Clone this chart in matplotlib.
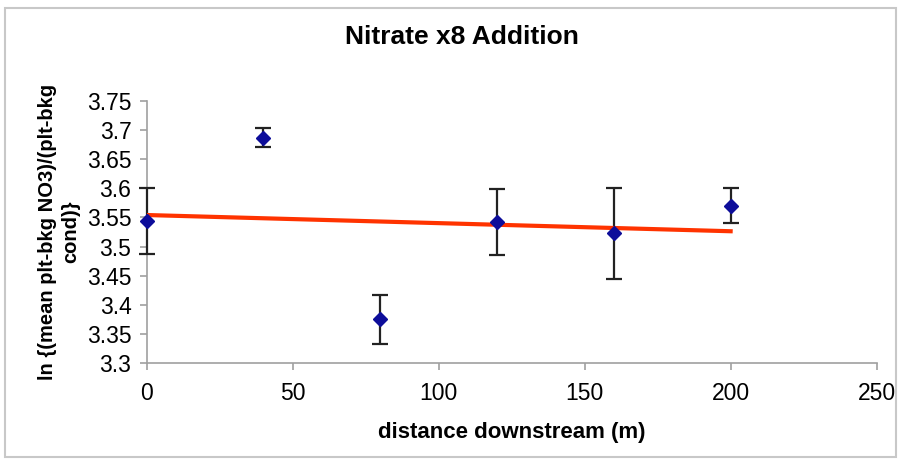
import numpy as np
import matplotlib
matplotlib.use("Agg")
from matplotlib import pyplot as plt
from matplotlib.patches import Rectangle

distance = [0, 40, 80, 120, 160, 200]
ln_ratio = [3.544, 3.687, 3.375, 3.542, 3.523, 3.570]
error = [0.057, 0.016, 0.042, 0.056, 0.078, 0.030]

plt.rcParams["font.family"] = ["Liberation Sans", "DejaVu Sans"]

fig = plt.figure(figsize=(9, 4.63), dpi=100)
ax = fig.add_axes([0.163, 0.216, 0.811, 0.566])

# chart area border
fig.patches.append(Rectangle((0.006, 0.013), 0.99, 0.97, transform=fig.transFigure,
                             fill=False, edgecolor="#c8c8c8", linewidth=1.5))

eb = ax.errorbar(distance, ln_ratio, yerr=error, fmt="none", ecolor="#222222",
                 elinewidth=1.6, capsize=6, capthick=1.6, zorder=3)
for art in eb.lines[1] + eb.lines[2]:
    art.set_clip_on(False)
    art.set_zorder(3)

# linear trendline
slope, intercept = np.polyfit(distance, ln_ratio, 1)
xs = np.array([min(distance), max(distance)])
ax.plot(xs, slope * xs + intercept, color="#ff3300", linewidth=3, zorder=3.5)

ax.plot(distance, ln_ratio, linestyle="none", marker="D", markersize=7.5,
        color="#0d0d9a", zorder=4, clip_on=False)

ax.set_xlim(0, 250)
ax.set_ylim(3.3, 3.75)
ax.set_xticks([0, 50, 100, 150, 200, 250])
ax.set_yticks([3.3, 3.35, 3.4, 3.45, 3.5, 3.55, 3.6, 3.65, 3.7, 3.75])
ax.set_yticklabels(["3.3", "3.35", "3.4", "3.45", "3.5", "3.55", "3.6", "3.65", "3.7", "3.75"])

for side in ["top", "right"]:
    ax.spines[side].set_visible(False)
for side in ["left", "bottom"]:
    ax.spines[side].set_color("#a0a0a0")
    ax.spines[side].set_linewidth(1.2)
    ax.spines[side].set_zorder(1)
ax.tick_params(axis="both", direction="out", length=5, color="#a0a0a0",
               labelsize=16.5, labelcolor="black", width=1.2)
ax.tick_params(axis="x", pad=9)
ax.tick_params(axis="y", pad=6)

fig.text(0.513, 0.92, "Nitrate x8 Addition", fontsize=19, fontweight="bold",
         ha="center", va="center")
ax.set_xlabel("distance downstream (m)", fontsize=16, fontweight="bold", labelpad=12)
ax.set_ylabel("ln {(mean plt-bkg NO3)/(plt-bkg\ncond)}", fontsize=14.5,
              fontweight="bold", labelpad=5, linespacing=1.25)

fig.savefig("out.png", dpi=100)
